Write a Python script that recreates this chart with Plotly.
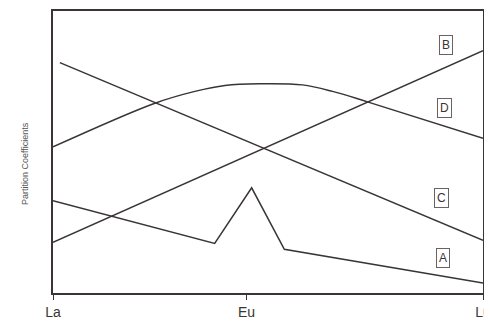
import plotly.graph_objects as go

# positions along the REE series (0 = La, 100 = Lu)
tick_pos = [0, 45, 100]
tick_text = ["La", "Eu", "Lu"]

b_x = [0, 100]
b_y = [18.0, 85.9]

c_x = [1.6, 100]
c_y = [81.7, 18.7]

d_x = [0, 23.7, 33.0, 40.0, 48.0, 58.0, 65.0, 73.5, 100]
d_y = [51.8, 67.3, 71.5, 73.6, 74.2, 73.8, 71.5, 67.6, 54.9]

a_x = [0, 37.6, 46.2, 53.8, 100]
a_y = [32.7, 17.6, 37.3, 15.5, 3.5]

label_text = ["B", "D", "C", "A"]
label_x = [91.4, 91.0, 90.3, 90.7]
label_y = [88.0, 65.5, 33.8, 12.3]

ink = "#3a3434"

fig = go.Figure()
line = dict(color=ink, width=1.5)
fig.add_trace(go.Scatter(x=b_x, y=b_y, mode="lines", line=line))
fig.add_trace(go.Scatter(x=c_x, y=c_y, mode="lines", line=line))
fig.add_trace(go.Scatter(x=d_x, y=d_y, mode="lines", line=dict(color=ink, width=1.5, shape="spline", smoothing=1.0)))
fig.add_trace(go.Scatter(x=a_x, y=a_y, mode="lines", line=line))

for t, x, y in zip(label_text, label_x, label_y):
    fig.add_annotation(x=x, y=y, text=t, showarrow=False,
                       font=dict(family="Liberation Sans, Arial", size=12, color=ink),
                       bordercolor="#6a6262", borderwidth=1, borderpad=2, bgcolor="white")

fig.add_annotation(xref="paper", yref="paper", x=-0.081, y=0.458, text="Partition Coefficients",
                   textangle=-90, showarrow=False,
                   font=dict(family="Liberation Sans, Arial", size=9, color="#555"))

# page body adds an 8px offset, so the figure is sized to fit the window
fig.update_layout(
    width=484, height=319,
    margin=dict(l=45, r=8, t=1, b=34),
    paper_bgcolor="white", plot_bgcolor="white",
    showlegend=False,
)
fig.update_xaxes(range=[0, 100], tickvals=tick_pos, ticktext=tick_text,
                 ticks="outside", ticklen=5, tickcolor=ink,
                 showline=True, linecolor=ink, linewidth=1.5, mirror=True,
                 showgrid=False, zeroline=False,
                 tickfont=dict(family="Liberation Sans, Arial", size=14, color=ink))
fig.update_yaxes(range=[0, 100], showticklabels=False, ticks="",
                 showline=True, linecolor=ink, linewidth=1.5, mirror=True,
                 showgrid=False, zeroline=False)

fig.write_html("out.html")
